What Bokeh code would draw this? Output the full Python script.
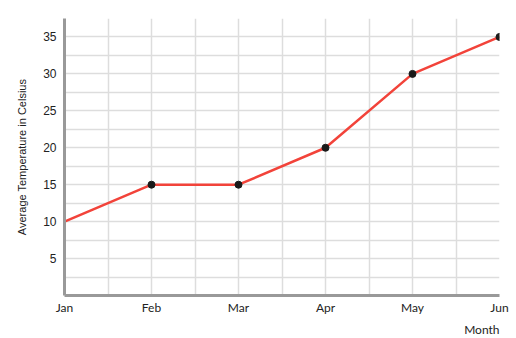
from bokeh.plotting import figure
from bokeh.models import FixedTicker, Range1d, Title
from bokeh.embed import file_html
from bokeh.resources import INLINE
import numpy as np

months = ["Jan", "Feb", "Mar", "Apr", "May", "Jun"]
temps = [10, 15, 15, 20, 30, 35]
y_ticks = [5, 10, 15, 20, 25, 30, 35]

xs = list(range(len(months)))

p = figure(width=516, height=338, output_backend="svg", toolbar_location=None,
           x_range=Range1d(0, len(months) - 1), y_range=Range1d(0, 37.5),
           min_border_left=64, min_border_right=17, min_border_top=18, min_border_bottom=0)
p.outline_line_color = None
p.background_fill_color = "white"

p.xaxis.ticker = FixedTicker(ticks=xs)
p.xaxis.major_label_overrides = {i: m for i, m in enumerate(months)}
p.yaxis.ticker = FixedTicker(ticks=y_ticks)

for ax in (p.xaxis[0], p.yaxis[0]):
    ax.axis_line_color = "#999999"
    ax.axis_line_width = 3
    ax.major_tick_line_color = None
    ax.minor_tick_line_color = None
    ax.major_tick_out = 0
    ax.major_tick_in = 0
    ax.minor_tick_out = 0
    ax.minor_tick_in = 0
    ax.major_label_text_color = "#222222"

p.yaxis.major_label_text_font = "Liberation Sans"
p.yaxis.major_label_text_font_size = "12px"
p.yaxis.major_label_standoff = 8
p.xaxis.major_label_text_font = "Lato"
p.xaxis.major_label_text_font_size = "12px"
p.xaxis.major_label_standoff = 4

p.yaxis.axis_label = "Average Temperature in Celsius"
p.yaxis.axis_label_text_font = "Liberation Sans"
p.yaxis.axis_label_text_font_style = "normal"
p.yaxis.axis_label_text_font_size = "11px"
p.yaxis.axis_label_text_color = "#222222"
p.yaxis.axis_label_standoff = 12

p.xgrid.ticker = FixedTicker(ticks=list(np.arange(0, 5.01, 0.5)))
p.ygrid.ticker = FixedTicker(ticks=list(np.arange(0, 37.51, 2.5)))
p.xgrid.grid_line_color = "#dddddd"
p.ygrid.grid_line_color = "#dddddd"
p.xgrid.grid_line_width = 1.5
p.ygrid.grid_line_width = 1.5

p.line(xs, temps, line_color="#f2433a", line_width=2.5)
p.scatter(xs[1:], temps[1:], size=7, color="#1a1a1a")

month_title = Title(text="Month", align="right", text_font="Lato", text_font_size="12px",
                    text_font_style="normal", text_color="#222222", offset=0,
                    standoff=4)
p.add_layout(month_title, "below")

open("out.html", "w").write(file_html(p, INLINE))
